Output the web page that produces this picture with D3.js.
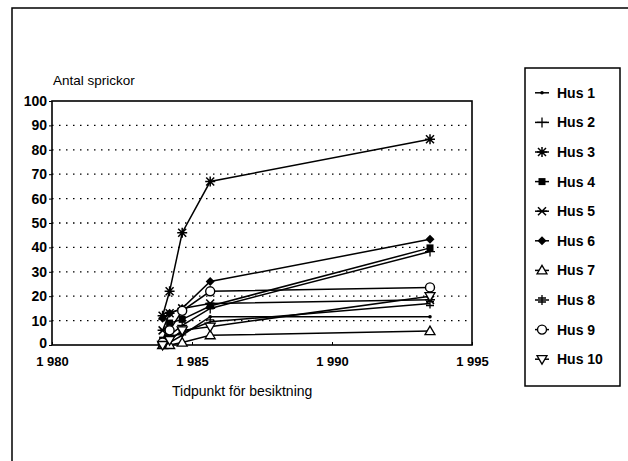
<!DOCTYPE html>
<html><head><meta charset="utf-8">
<script src="https://cdn.jsdelivr.net/npm/d3@7"></script>
<style>
html,body{margin:0;padding:0;background:#fff;}
svg{display:block;}
text{font-family:"Liberation Sans",Arial,sans-serif;fill:#000;}
</style></head>
<body><svg id="c" width="628" height="461"></svg>
<script>
// ---- data ----
const dates = [1983.95, 1984.2, 1984.65, 1985.65, 1993.5];
const seriesNames = ["Hus 1","Hus 2","Hus 3","Hus 4","Hus 5","Hus 6","Hus 7","Hus 8","Hus 9","Hus 10"];
const hus1  = [0, 1, 4, 11.6, 11.6];
const hus2  = [1, 4, 8, 15, 38.3];
const hus3  = [12, 22, 46, 67, 84.3];
const hus4  = [2, 9, 10.5, 16, 39.8];
const hus5  = [6, 13, 15, 17, 18.5];
const hus6  = [11, 13, 15, 26, 43.3];
const hus7  = [0, 0, 1, 4, 5.7];
const hus8  = [0, 3, 5, 9.5, 17];
const hus9  = [1, 6, 14, 22, 23.6];
const hus10 = [0, 2, 6, 7.5, 20];
const seriesValues = [hus1,hus2,hus3,hus4,hus5,hus6,hus7,hus8,hus9,hus10];
const markerTypes = ["dot","plus","asterisk","square","cross","diamond","triUp","dbar","circle","triDown"];
const xTicks = [1980, 1985, 1990, 1995];
const xTickLabels = ["1 980","1 985","1 990","1 995"];
const yTicks = [0,10,20,30,40,50,60,70,80,90,100];
const yTitle = "Antal sprickor";
const xTitle = "Tidpunkt för besiktning";

// ---- layout ----
const svg = d3.select("#c");
const L = 52, R = 472, T = 101, B = 345;
const x = d3.scaleLinear().domain([1980,1995]).range([L,R]);
const y = d3.scaleLinear().domain([0,100]).range([B,T]);

// outer frame
svg.append("rect").attr("x",12).attr("y",8).attr("width",640).attr("height",480)
  .attr("fill","none").attr("stroke","#000").attr("stroke-width",1.5);

// grid
svg.append("g").selectAll("line").data(yTicks.filter(d=>d>0&&d<100)).join("line")
  .attr("x1",L).attr("x2",R).attr("y1",d=>y(d)).attr("y2",d=>y(d))
  .attr("stroke","#000").attr("stroke-width",1.3).attr("stroke-dasharray","1.5,5.5");

// axes
const yAxis = d3.axisLeft(y).tickValues(yTicks).tickSize(3).tickPadding(2);
const gy = svg.append("g").attr("transform",`translate(${L},0)`).call(yAxis);
gy.select(".domain").remove();
gy.selectAll("line").attr("stroke","#000");
gy.selectAll("text").attr("font-size",14).attr("font-weight","bold").attr("font-family","Liberation Sans, Arial, sans-serif");
gy.selectAll(".tick").filter(d=>d===0).select("text").attr("dy","0.2em");

const xAxis = d3.axisBottom(x).tickValues(xTicks).tickFormat((d,i)=>xTickLabels[i]).tickSize(-3).tickPadding(12);
const gx = svg.append("g").attr("transform",`translate(0,${B})`).call(xAxis);
gx.select(".domain").remove();
gx.selectAll("line").attr("stroke","#000");
gx.selectAll("text").attr("font-size",13).attr("font-weight","bold").attr("font-family","Liberation Sans, Arial, sans-serif");

// plot frame
svg.append("rect").attr("x",L).attr("y",T).attr("width",R-L).attr("height",B-T)
  .attr("fill","none").attr("stroke","#000").attr("stroke-width",1.6);

// titles
svg.append("text").attr("x",53).attr("y",85).attr("font-size",13.5).text(yTitle);
svg.append("text").attr("x",172).attr("y",396).attr("font-size",14).text(xTitle);

// marker drawer
function drawMarker(g, type, cx, cy){
  const s = "#000";
  switch(type){
    case "dot": g.append("circle").attr("cx",cx).attr("cy",cy).attr("r",1.8).attr("fill",s); break;
    case "plus":
      g.append("path").attr("d",`M${cx-5},${cy}H${cx+5}M${cx},${cy-5}V${cy+5}`).attr("stroke",s).attr("stroke-width",1.3).attr("fill","none"); break;
    case "asterisk":
      g.append("path").attr("d",`M${cx-5},${cy}H${cx+5}M${cx},${cy-5}V${cy+5}M${cx-4},${cy-4}L${cx+4},${cy+4}M${cx-4},${cy+4}L${cx+4},${cy-4}`)
        .attr("stroke",s).attr("stroke-width",1.5).attr("fill","none"); break;
    case "square": g.append("rect").attr("x",cx-3.5).attr("y",cy-3.5).attr("width",7).attr("height",7).attr("fill",s); break;
    case "cross":
      g.append("path").attr("d",`M${cx-4},${cy-4}L${cx+4},${cy+4}M${cx-4},${cy+4}L${cx+4},${cy-4}M${cx-5},${cy}H${cx+5}`)
        .attr("stroke",s).attr("stroke-width",1.5).attr("fill","none"); break;
    case "diamond": g.append("path").attr("d",`M${cx},${cy-4.5}L${cx+4.5},${cy}L${cx},${cy+4.5}L${cx-4.5},${cy}Z`).attr("fill",s); break;
    case "triUp": g.append("path").attr("d",`M${cx},${cy-5}L${cx+5},${cy+3.5}L${cx-5},${cy+3.5}Z`).attr("fill","#fff").attr("stroke",s).attr("stroke-width",1.3); break;
    case "triDown": g.append("path").attr("d",`M${cx},${cy+5}L${cx+5},${cy-3.5}L${cx-5},${cy-3.5}Z`).attr("fill","#fff").attr("stroke",s).attr("stroke-width",1.3); break;
    case "dbar":
      g.append("path").attr("d",`M${cx},${cy-5}V${cy+5}M${cx-4},${cy-2}H${cx+4}M${cx-4},${cy+2}H${cx+4}`)
        .attr("stroke",s).attr("stroke-width",1.3).attr("fill","none"); break;
    case "circle": g.append("circle").attr("cx",cx).attr("cy",cy).attr("r",4.5).attr("fill","#fff").attr("stroke",s).attr("stroke-width",1.4); break;
  }
}

// lines
const line = d3.line().defined(d=>d[1]!=null).x(d=>x(d[0])).y(d=>y(d[1]));
const gl = svg.append("g");
seriesValues.forEach((vals,i)=>{
  const pts = dates.map((d,j)=>[d,vals[j]]);
  gl.append("path").datum(pts).attr("d",line).attr("fill","none").attr("stroke","#000").attr("stroke-width",1.5);
});
const gm = svg.append("g");
seriesValues.forEach((vals,i)=>{
  dates.forEach((d,j)=>{ if(vals[j]!=null) drawMarker(gm, markerTypes[i], x(d), y(vals[j])); });
});

// legend
const lg = svg.append("g");
const lx = 525, ly = 68, lw = 95, lh = 318;
lg.append("rect").attr("x",lx).attr("y",ly).attr("width",lw).attr("height",lh).attr("fill","#fff").attr("stroke","#000").attr("stroke-width",1.5);
const ls = d3.scaleBand().domain(seriesNames).range([ly+10, ly+lh-12]);
seriesNames.forEach((n,i)=>{
  const cy = ls(n) + ls.bandwidth()/2;
  lg.append("line").attr("x1",lx+10).attr("x2",lx+24).attr("y1",cy).attr("y2",cy).attr("stroke","#000").attr("stroke-width",1.5);
  drawMarker(lg, markerTypes[i], lx+17, cy);
  lg.append("text").attr("x",lx+32).attr("y",cy+5).attr("font-size",14).attr("font-weight","bold").text(n);
});
</script></body></html>
